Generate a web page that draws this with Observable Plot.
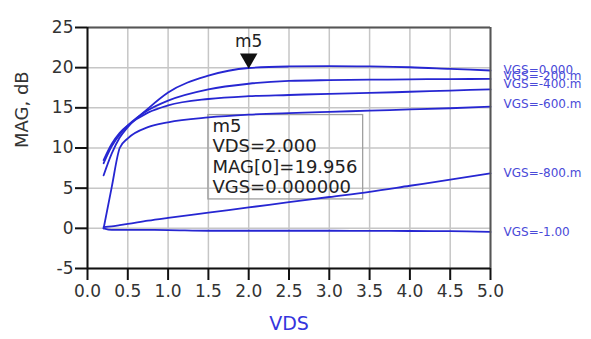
<!DOCTYPE html>
<html><head><meta charset="utf-8">
<script src="https://cdn.jsdelivr.net/npm/d3@7"></script>
<script src="https://cdn.jsdelivr.net/npm/@observablehq/plot@0.6"></script>
<style>body{margin:0;background:#fff}</style>
</head><body><div id="chart"></div>
<script>
// Sweep points (VDS, V)
const vds = [0.2, 0.3, 0.4, 0.5, 0.75, 1.0, 1.5, 2.0, 2.5, 3.0, 3.5, 4.0, 4.5, 5.0];
// Series names
const vgsLabels = ["VGS=0.000", "VGS=-200.m", "VGS=-400.m", "VGS=-600.m", "VGS=-800.m", "VGS=-1.00"];
// MAG (dB) per VGS
const magVgs0    = [6.6, 9.3, 11.3, 12.6, 14.9, 16.9, 19.0, 19.956, 20.15, 20.2, 20.15, 20.05, 19.85, 19.65];
const magVgsM200 = [8.1, 10.2, 11.7, 12.8, 14.7, 15.9, 17.3, 18.0, 18.35, 18.45, 18.5, 18.55, 18.58, 18.6];
const magVgsM400 = [8.5, 10.5, 11.9, 12.8, 14.4, 15.3, 16.1, 16.45, 16.6, 16.75, 16.85, 17.0, 17.15, 17.3];
const magVgsM600 = [0.0, 5.1, 10.0, 11.2, 12.6, 13.2, 13.8, 14.15, 14.35, 14.5, 14.65, 14.8, 14.95, 15.15];
const magVgsM800 = [0.15, 0.25, 0.4, 0.55, 0.95, 1.3, 1.95, 2.6, 3.25, 3.9, 4.55, 5.3, 6.05, 6.85];
const magVgsM1000 = [0.0, -0.2, -0.2, -0.2, -0.2, -0.22, -0.3, -0.3, -0.3, -0.3, -0.32, -0.33, -0.35, -0.45];
// Label anchors at right edge (MAG units)
const labelMag = [19.7, 19.0, 18.0, 15.4, 6.9, -0.5];
// Axis ticks
const xTicks = [0, 0.5, 1.0, 1.5, 2.0, 2.5, 3.0, 3.5, 4.0, 4.5, 5.0];
const yTicks = [-5, 0, 5, 10, 15, 20, 25];
// Marker m5
const markerName = "m5";
const markerVds = 2.0;
const markerMag = 19.956;
const markerLines = ["m5", "VDS=2.000", "MAG[0]=19.956", "VGS=0.000000"];
const markerBoxVds = [1.5, 3.42];
const markerBoxMag = [3.6, 14.1];

const series = [magVgs0, magVgsM200, magVgsM400, magVgsM600, magVgsM800, magVgsM1000];
const rows = [];
series.forEach((s, i) => vds.forEach((x, j) => rows.push({vgs: vgsLabels[i], vds: x, mag: s[j]})));
const labelRows = vgsLabels.map((l, i) => ({label: l, vds: 5.0, mag: labelMag[i]}));

const chart = Plot.plot({
  width: 591, height: 339,
  marginLeft: 87, marginRight: 101, marginTop: 27, marginBottom: 71,
  style: {fontFamily: "DejaVu Sans", background: "white", overflow: "visible"},
  x: {domain: [0, 5]},
  y: {domain: [-5, 25]},
  marks: [
    Plot.gridX(xTicks, {stroke: "#c6c6c6", strokeOpacity: 1, strokeWidth: 1.5}),
    Plot.gridY(yTicks, {stroke: "#c6c6c6", strokeOpacity: 1, strokeWidth: 1.5}),
    Plot.rect([0], {x1: () => markerBoxVds[0], x2: () => markerBoxVds[1], y1: () => markerBoxMag[0], y2: () => markerBoxMag[1], fill: "none", stroke: "#a0a0a0", strokeWidth: 1.3}),
    Plot.line(rows, {x: "vds", y: "mag", z: "vgs", stroke: "#2626d2", strokeWidth: 1.8, curve: "monotone-x"}),
    Plot.ruleX([5], {stroke: "#555", strokeWidth: 2}),
    Plot.ruleY([25], {stroke: "#555", strokeWidth: 2}),
    Plot.ruleX([0], {stroke: "#111", strokeWidth: 2}),
    Plot.ruleY([-5], {stroke: "#111", strokeWidth: 2}),
    Plot.axisX(xTicks, {tickSize: 12, tickPadding: 4, strokeWidth: 2, stroke: "#111", tickFormat: d => d.toFixed(1), fontSize: 17, fill: "#333", label: null}),
    Plot.axisY(yTicks, {tickSize: 12, tickPadding: 2, strokeWidth: 2, stroke: "#111", tickFormat: d => String(d), fontSize: 17, fill: "#333", label: null}),
    Plot.text(labelRows, {x: "vds", y: "mag", text: "label", dx: 13, textAnchor: "start", fill: "#4a4ad8", fontSize: 12}),
    Plot.dot([0], {x: () => markerVds, y: () => markerMag, symbol: "triangle", r: 6.5, rotate: 180, dy: -9.5, fill: "#111", stroke: "none"}),
    Plot.text([markerName], {x: () => markerVds, y: () => markerMag, dy: -26, fontSize: 17, fill: "#222"}),
    Plot.text([markerLines.join("\n")], {x: () => markerBoxVds[0], y: () => markerBoxMag[1], dx: 4, dy: 2, textAnchor: "start", lineAnchor: "top", lineHeight: 1.14, fontSize: 18, fill: "#222"}),
    Plot.text(["VDS"], {frameAnchor: "bottom", dy: 61, fontSize: 19, fill: "#3535dd"}),
    Plot.text(["MAG, dB"], {frameAnchor: "left", dx: -65, rotate: -90, fontSize: 18, fill: "#333"})
  ]
});
document.getElementById("chart").appendChild(chart);
</script>
</body></html>
